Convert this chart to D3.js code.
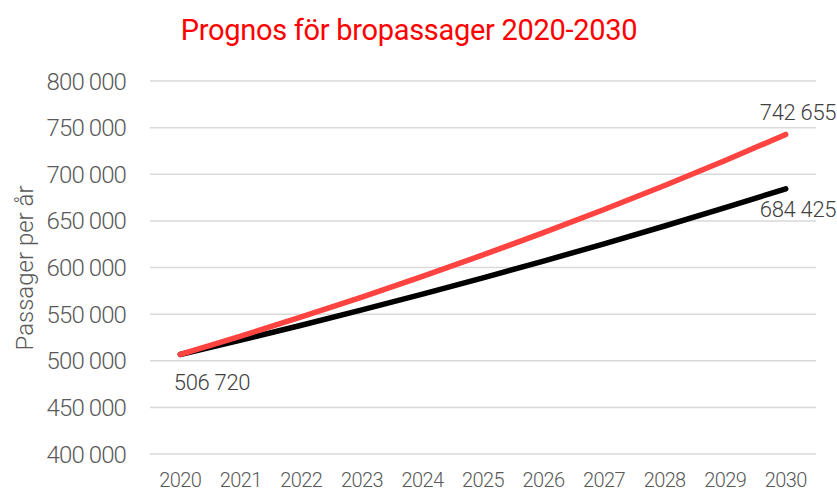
<!DOCTYPE html>
<html>
<head>
<meta charset="utf-8">
<script src="https://cdn.jsdelivr.net/npm/d3@7"></script>
<style>
  body { margin: 0; background: #fff; }
  text { font-family: Roboto, "Liberation Sans", sans-serif; font-weight: 300; }
</style>
</head>
<body>
<svg id="chart" width="837" height="491"></svg>
<script>
// data
var years = ['2020','2021','2022','2023','2024','2025','2026','2027','2028','2029','2030'];
var highSeries = [506720, 526480, 547000, 568300, 590400, 613500, 637400, 662200, 688000, 714800, 742655];
var lowSeries  = [506720, 522200, 538100, 554500, 571500, 588900, 606900, 625400, 644500, 664200, 684425];
var yTicks = [400000, 450000, 500000, 550000, 600000, 650000, 700000, 750000, 800000];

var svg = d3.select('#chart');
var padding = {l: 150, r: 21, t: 81, b: 37};
var svgWidth = 837, svgHeight = 491;

var xScale = d3.scalePoint()
    .domain(years)
    .range([padding.l, svgWidth - padding.r])
    .padding(0.5);

var yScale = d3.scaleLinear()
    .domain([400000, 800000])
    .range([svgHeight - padding.b, padding.t]);

var fmt = function(v){ return d3.format(',')(v).replace(/,/g, ' '); };

// gridlines
svg.append('g').selectAll('line')
    .data(yTicks)
    .enter()
    .append('line')
    .attr('x1', padding.l)
    .attr('x2', svgWidth - padding.r)
    .attr('y1', function(d){ return yScale(d); })
    .attr('y2', function(d){ return yScale(d); })
    .attr('stroke', '#d9d9d9')
    .attr('stroke-width', 1.5);

// y tick labels
svg.append('g').selectAll('text')
    .data(yTicks)
    .enter()
    .append('text')
    .attr('x', 126)
    .attr('y', function(d){ return yScale(d) + 8.5; })
    .attr('text-anchor', 'end')
    .style('font-size', '24px')
    .style('letter-spacing', '-0.9px')
    .style('fill', '#595959')
    .text(fmt);

// x tick labels
svg.append('g').selectAll('text')
    .data(years)
    .enter()
    .append('text')
    .attr('x', function(d){ return xScale(d); })
    .attr('y', 487)
    .attr('text-anchor', 'middle')
    .style('font-size', '20px')
    .style('letter-spacing', '-0.6px')
    .style('fill', '#595959')
    .text(function(d){ return d; });

// titles
svg.append('text')
    .attr('x', 409)
    .attr('y', 40)
    .attr('text-anchor', 'middle')
    .style('font-size', '29px')
    .style('font-weight', 400)
    .style('letter-spacing', '-0.3px')
    .style('fill', '#ff0000')
    .text('Prognos för bropassager 2020-2030');

svg.append('text')
    .attr('transform', 'translate(33,268) rotate(-90)')
    .attr('text-anchor', 'middle')
    .style('font-size', '24px')
    .style('fill', '#595959')
    .text('Passager per år');

// lines
var line = d3.line()
    .x(function(d, i){ return xScale(years[i]); })
    .y(function(d){ return yScale(d); })
    .curve(d3.curveMonotoneX);

svg.append('path')
    .datum(lowSeries)
    .attr('d', line)
    .attr('fill', 'none')
    .attr('stroke', '#000')
    .attr('stroke-width', 5.5)
    .attr('stroke-linecap', 'round');

svg.append('path')
    .datum(highSeries)
    .attr('d', line)
    .attr('fill', 'none')
    .attr('stroke', '#ff4340')
    .attr('stroke-width', 5.5)
    .attr('stroke-linecap', 'round');

// data labels
var last = years.length - 1;
svg.append('text')
    .attr('x', 798)
    .attr('y', 120)
    .attr('text-anchor', 'middle')
    .style('font-size', '22px')
    .style('letter-spacing', '-0.3px')
    .style('fill', '#404040')
    .text(fmt(highSeries[last]));

svg.append('text')
    .attr('x', 798)
    .attr('y', 217)
    .attr('text-anchor', 'middle')
    .style('font-size', '22px')
    .style('letter-spacing', '-0.3px')
    .style('fill', '#404040')
    .text(fmt(lowSeries[last]));

svg.append('text')
    .attr('x', 212)
    .attr('y', 390)
    .attr('text-anchor', 'middle')
    .style('font-size', '22px')
    .style('letter-spacing', '-0.3px')
    .style('fill', '#404040')
    .text(fmt(lowSeries[0]));
</script>
</body>
</html>
